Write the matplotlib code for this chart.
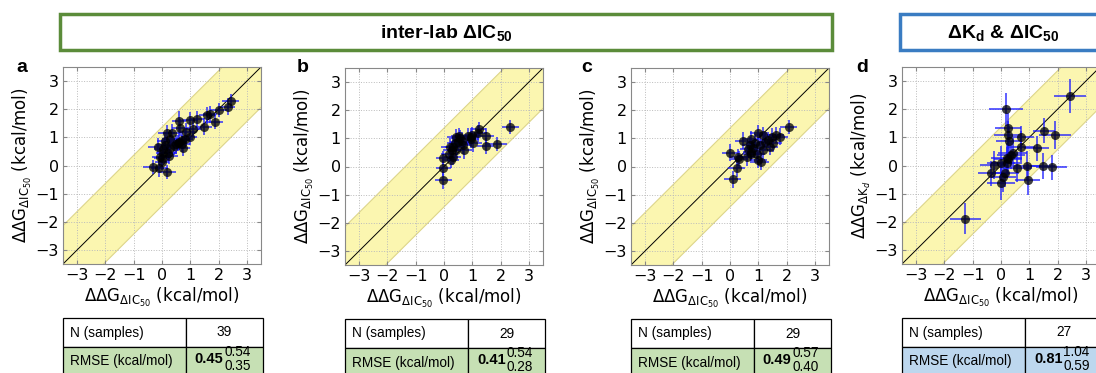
import matplotlib.pyplot as plt
import numpy as np
from matplotlib.patches import Rectangle

# ---- data ----
a_x = [2.43, 2.34, 2.00, 1.70, 1.87, 1.48, 1.25, 0.99, 0.60, 0.64, 0.99, 0.34, 0.16,
       0.69, 0.55, 0.48, 0.60, -0.15, 0.03, 0.22, -0.07, 0.00, -0.33, -0.10, 0.19,
       0.42, 0.70, 0.30, 0.10, 0.05, 0.12, 0.80, 1.10, 0.85, 0.30, 0.00, 0.75, 0.25, 1.60]
a_y = [2.30, 2.09, 1.97, 1.82, 1.56, 1.38, 1.65, 1.60, 1.58, 1.35, 1.03, 1.17, 1.14,
       0.90, 0.80, 0.75, 0.85, 0.67, 0.60, 0.45, 0.31, 0.13, -0.04, -0.10, -0.22,
       0.68, 0.78, 0.62, 0.72, 0.45, 0.88, 0.95, 1.30, 1.20, 0.95, 0.25, 0.62, 0.35, 1.78]
a_xerr = [0.30, 0.25, 0.30, 0.25, 0.30, 0.30, 0.25, 0.30, 0.25, 0.30, 0.25, 0.30, 0.30,
          0.30, 0.35, 0.30, 0.30, 0.35, 0.30, 0.30, 0.30, 0.25, 0.35, 0.30, 0.30,
          0.30, 0.30, 0.30, 0.30, 0.25, 0.30, 0.30, 0.30, 0.30, 0.30, 0.30, 0.25, 0.30, 0.30]
a_yerr = [0.25, 0.30, 0.25, 0.30, 0.25, 0.30, 0.30, 0.30, 0.35, 0.30, 0.30, 0.30, 0.30,
          0.30, 0.30, 0.35, 0.30, 0.30, 0.30, 0.30, 0.30, 0.30, 0.25, 0.30, 0.25,
          0.30, 0.30, 0.30, 0.30, 0.30, 0.30, 0.30, 0.30, 0.30, 0.30, 0.30, 0.30, 0.30, 0.30]

b_x = [2.35, 1.25, 1.21, 1.00, 0.94, 1.48, 1.48, 1.88, 0.56, 0.50, 0.42, 0.68, 1.04, 0.33,
       0.27, 0.19, 0.42, 0.70, -0.02, 0.24, 0.31, -0.02, -0.02, 0.62, 0.86, 0.21, 0.39,
       0.94, 0.54]
b_y = [1.42, 1.32, 1.18, 1.12, 0.96, 1.08, 0.73, 0.80, 1.00, 0.88, 1.04, 0.76, 0.82, 0.70,
       0.58, 0.46, 0.58, 0.58, 0.29, 0.23, 0.35, -0.07, -0.49, 0.92, 1.08, 0.70, 0.82,
       1.06, 1.08]
b_xerr = [0.30, 0.25, 0.30, 0.30, 0.30, 0.30, 0.30, 0.35, 0.30, 0.30, 0.30, 0.30, 0.30,
          0.30, 0.30, 0.30, 0.30, 0.30, 0.25, 0.30, 0.30, 0.25, 0.30, 0.30, 0.30, 0.30,
          0.30, 0.30, 0.30]
b_yerr = [0.25, 0.25, 0.30, 0.30, 0.30, 0.30, 0.30, 0.25, 0.30, 0.30, 0.30, 0.30, 0.30,
          0.30, 0.30, 0.30, 0.30, 0.30, 0.25, 0.30, 0.30, 0.25, 0.30, 0.30, 0.30, 0.30,
          0.30, 0.30, 0.30]

c_x = [2.07, 1.62, 1.76, 1.47, 1.00, 1.18, 1.24, 1.53, 1.35, 0.74, 0.47, 0.88, 1.06, 0.71,
       0.82, 0.76, 0.76, 0.00, 0.29, 0.33, 0.59, 1.00, 1.08, 0.94, 0.24, 0.09, 1.18, 1.41,
       0.65]
c_y = [1.42, 1.12, 1.06, 1.06, 1.18, 1.12, 0.88, 0.82, 0.94, 0.96, 0.92, 0.85, 0.76, 0.76,
       0.64, 0.52, 0.44, 0.49, 0.32, 0.25, 0.32, 0.23, 0.17, 0.46, -0.07, -0.46, 0.58, 0.70,
       0.61]
c_xerr = [0.30, 0.30, 0.30, 0.30, 0.30, 0.30, 0.30, 0.30, 0.30, 0.30, 0.30, 0.30, 0.30,
          0.30, 0.30, 0.30, 0.30, 0.30, 0.30, 0.30, 0.30, 0.30, 0.30, 0.30, 0.30, 0.30,
          0.30, 0.30, 0.30]
c_yerr = [0.25, 0.30, 0.30, 0.30, 0.30, 0.30, 0.30, 0.30, 0.30, 0.30, 0.30, 0.30, 0.30,
          0.30, 0.30, 0.30, 0.30, 0.30, 0.30, 0.30, 0.30, 0.30, 0.30, 0.30, 0.30, 0.30,
          0.30, 0.30, 0.30]

d_x = [2.44, 0.18, 0.24, 0.24, 0.29, 0.71, 1.52, 1.91, 1.26, 0.71, 0.41, 0.20, 0.00, -0.24,
       0.20, 0.91, 1.47, 1.79, 0.58, -0.35, 0.14, 0.08, -0.01, 0.94, -1.27, 0.26, 0.35]
d_y = [2.48, 1.99, 1.32, 1.08, 0.87, 1.00, 1.24, 1.08, 0.61, 0.67, 0.46, 0.25, 0.10, 0.02,
       0.10, 0.00, -0.02, -0.06, -0.10, -0.28, -0.28, -0.40, -0.63, -0.51, -1.90, 0.22, 0.37]
d_xerr = [0.55, 0.60, 0.45, 0.50, 0.45, 0.45, 0.40, 0.55, 0.45, 0.50, 0.50, 0.55, 0.50, 0.50,
          0.55, 0.50, 0.45, 0.55, 0.50, 0.45, 0.50, 0.45, 0.50, 0.45, 0.55, 0.50, 0.50]
d_yerr = [0.60, 0.60, 0.55, 0.50, 0.55, 0.40, 0.45, 0.50, 0.45, 0.55, 0.50, 0.55, 0.60, 0.50,
          0.55, 0.50, 0.45, 0.45, 0.50, 0.45, 0.50, 0.55, 0.60, 0.55, 0.55, 0.55, 0.50]

panel_letters = ['a', 'b', 'c', 'd']
n_samples = ['39', '29', '29', '27']
rmse = [('0.45', '0.54', '0.35'), ('0.41', '0.54', '0.28'),
        ('0.49', '0.57', '0.40'), ('0.81', '1.04', '0.59')]

xlab = r'$\Delta\Delta \mathrm{G}_{\Delta \mathrm{IC}_{50}}$ (kcal/mol)'
ylabels = [xlab, xlab, xlab, r'$\Delta\Delta \mathrm{G}_{\Delta \mathrm{K}_{d}}$ (kcal/mol)']

plt.rcParams['mathtext.rm'] = 'Liberation Sans'
plt.rcParams['mathtext.it'] = 'Liberation Sans:italic'
plt.rcParams['mathtext.bf'] = 'Liberation Sans:bold'

W, H = 1096, 373
fig = plt.figure(figsize=(W / 100, H / 100), dpi=100)

def px(l, t, w, h):
    return [l / W, 1 - (t + h) / H, w / W, h / H]

green, blue = '#5b8c3a', '#3a7cc2'
light_green, light_blue = '#c6e0b4', '#bdd7ee'

# header boxes
fig.patches.append(Rectangle((60 / W, 1 - 50 / H), 772 / W, 36 / H, transform=fig.transFigure,
                             facecolor='white', edgecolor=green, lw=2.5))
fig.patches.append(Rectangle((900 / W, 1 - 50 / H), 220 / W, 36 / H, transform=fig.transFigure,
                             facecolor='white', edgecolor=blue, lw=2.5))
fig.text(446 / W, 1 - 33 / H, r'inter-lab $\mathbf{\Delta IC_{50}}$', ha='center', va='center',
         fontsize=14, fontweight='bold', family='Liberation Sans', math_fontfamily='custom')
fig.text(1003 / W, 1 - 33 / H, r'$\mathbf{\Delta K_d}$ & $\mathbf{\Delta IC_{50}}$',
         ha='center', va='center', fontsize=14, fontweight='bold', family='Liberation Sans',
         math_fontfamily='custom')

data = [(a_x, a_y, a_xerr, a_yerr), (b_x, b_y, b_xerr, b_yerr),
        (c_x, c_y, c_xerr, c_yerr), (d_x, d_y, d_xerr, d_yerr)]
lefts = [63, 345, 631, 902]
tops = [67, 68, 68, 67]
letter_x = [22, 303, 587, 862]
row_colors = [light_green, light_green, light_green, light_blue]

band = 1.4
lim = 3.5
diag = np.array([-lim, lim])

for i in range(4):
    ax = fig.add_axes(px(lefts[i], tops[i], 198, 197))
    x, y, xe, ye = data[i]
    ax.fill_between(diag, diag - band, diag + band, facecolor='#fbf6b0', edgecolor='#ddd58a',
                    lw=0.8, zorder=0)
    ax.plot(diag, diag, color='black', lw=0.7, zorder=1)
    ax.errorbar(x, y, xerr=xe, yerr=ye, fmt='none', ecolor=(0.1, 0.1, 1.0, 0.7),
                elinewidth=1.4, zorder=2)
    ax.plot(x, y, 'o', color='black', alpha=0.75, markersize=6.5, markeredgewidth=0, zorder=3)
    ax.set_xlim(-lim, lim)
    ax.set_ylim(-lim, lim)
    ax.set_xticks(range(-3, 4))
    ax.set_yticks(range(-3, 4))
    ax.grid(True, linestyle=':', color='#bbbbbb', lw=0.7)
    ax.set_axisbelow(True)
    for s in ax.spines.values():
        s.set_color('#888888')
    ax.tick_params(direction='in', length=3, color='#888888', labelsize=11.5, pad=3,
                   top=True, right=True)
    ax.set_xlabel(xlab, fontsize=12, labelpad=2)
    ax.set_ylabel(ylabels[i], fontsize=12, labelpad=1)
    fig.text(letter_x[i] / W, 1 - 68 / H, panel_letters[i], ha='center', va='center',
             fontsize=14, fontweight='bold', family='Liberation Sans')

    tbl = ax.table(cellText=[['N (samples)', n_samples[i]], ['RMSE (kcal/mol)', '']],
                   cellColours=[['white', 'white'], [row_colors[i], row_colors[i]]],
                   colWidths=[0.615, 0.385], cellLoc='center',
                   bbox=[0, (264 - 376) / 197, 200 / 198, 58 / 197])
    tbl.auto_set_font_size(False)
    tbl.set_fontsize(9.8)
    for (r, c), cell in tbl.get_celld().items():
        cell.set_edgecolor('black')
        cell.set_linewidth(0.9)
        t = cell.get_text()
        t.set_fontfamily('Liberation Sans')
        if c == 0:
            cell._loc = 'left'
            cell.PAD = 0.06
            t.set_ha('left')

    # RMSE value with upper / lower bounds
    m, hi, lo = rmse[i]
    xc = (123 + 77 / 2) / 198
    ax.text(xc - 0.005, (264 - 359) / 197, m, transform=ax.transAxes, ha='right', va='center',
            fontsize=10.5, fontweight='bold', family='Liberation Sans')
    ax.text(xc, (264 - 352) / 197, hi, transform=ax.transAxes, ha='left', va='center',
            fontsize=9.8, family='Liberation Sans')
    ax.text(xc, (264 - 366) / 197, lo, transform=ax.transAxes, ha='left', va='center',
            fontsize=9.8, family='Liberation Sans')

fig.savefig('out.png', dpi=100)
